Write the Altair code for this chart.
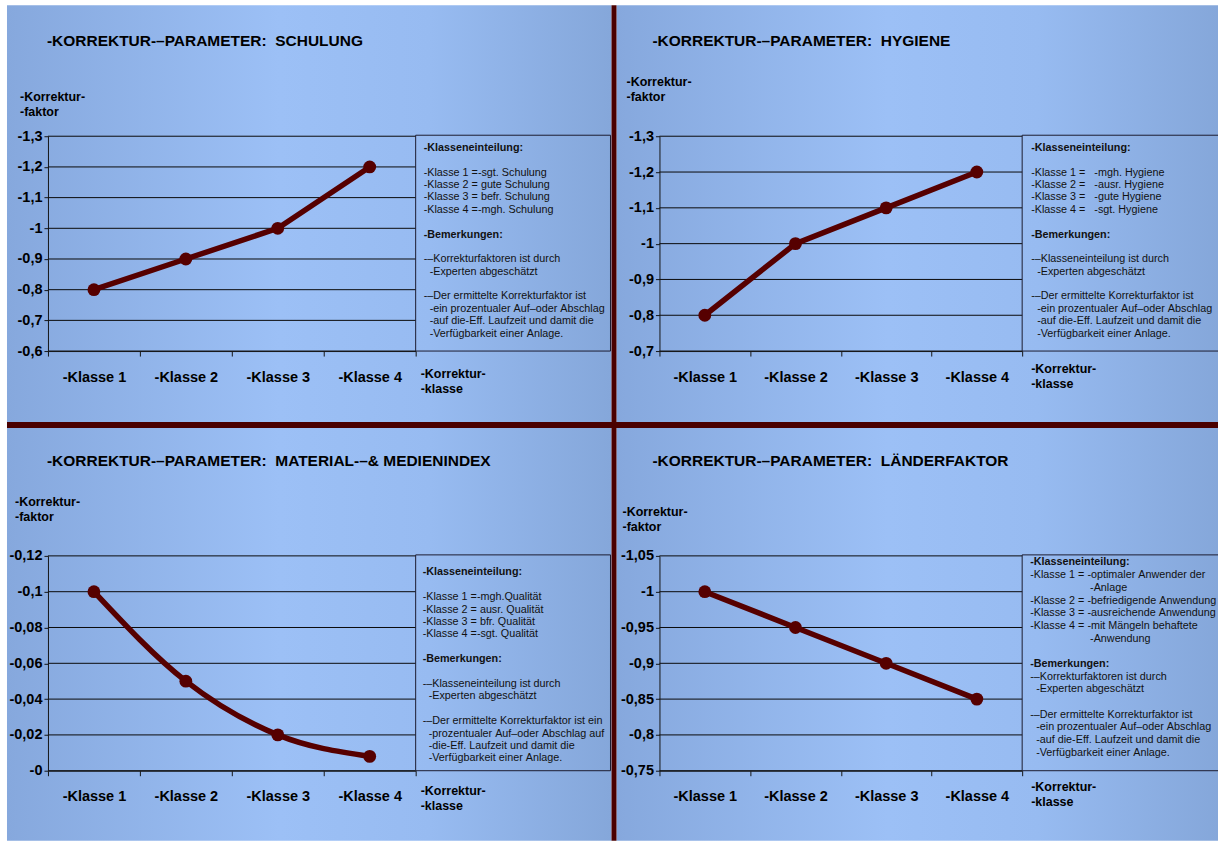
import altair as alt
import pandas as pd

FONT = "Liberation Sans"
MAROON = "#4a0000"
LINE_COLOR = "#560000"
INK = "#111111"
NB = "\u00a0"
ZW = "\u200b"

# ---------------- data ----------------
classes = ["-Klasse 1", "-Klasse 2", "-Klasse 3", "-Klasse 4"]

schulung_values = [0.8, 0.9, 1.0, 1.2]
hygiene_values = [0.8, 1.0, 1.1, 1.2]
material_values = [0.1, 0.05, 0.02, 0.008]
laender_values = [1.0, 0.95, 0.9, 0.85]

schulung_ticks = [0.6, 0.7, 0.8, 0.9, 1.0, 1.1, 1.2, 1.3]
hygiene_ticks = [0.7, 0.8, 0.9, 1.0, 1.1, 1.2, 1.3]
material_ticks = [0.0, 0.02, 0.04, 0.06, 0.08, 0.1, 0.12]
laender_ticks = [0.75, 0.8, 0.85, 0.9, 0.95, 1.0, 1.05]

titles = [
    "-KORREKTUR-–PARAMETER:  SCHULUNG",
    "-KORREKTUR-–PARAMETER:  HYGIENE",
    "-KORREKTUR-–PARAMETER:  MATERIAL-–& MEDIENINDEX",
    "-KORREKTUR-–PARAMETER:  LÄNDERFAKTOR",
]
y_title_lines = ["-Korrektur-", "-faktor"]
x_title_lines = ["-Korrektur-", "-klasse"]

# lines starting with "#" are bold headings, "" are blank lines
schulung_box = [
    "#-Klasseneinteilung:", "",
    "-Klasse 1 =-sgt. Schulung",
    "-Klasse 2 = gute Schulung",
    "-Klasse 3 = befr. Schulung",
    "-Klasse 4 =-mgh. Schulung", "",
    "#-Bemerkungen:", "",
    "-–Korrekturfaktoren ist durch",
    "  -Experten abgeschätzt", "",
    "-–Der ermittelte Korrekturfaktor ist",
    "  -ein prozentualer Auf–oder Abschlag",
    "  -auf die-Eff. Laufzeit und damit die",
    "  -Verfügbarkeit einer Anlage.",
]
hygiene_box = [
    "#-Klasseneinteilung:", "",
    "-Klasse 1 =   -mgh. Hygiene",
    "-Klasse 2 =   -ausr. Hygiene",
    "-Klasse 3 =   -gute Hygiene",
    "-Klasse 4 =   -sgt. Hygiene", "",
    "#-Bemerkungen:", "",
    "-–Klasseneinteilung ist durch",
    "  -Experten abgeschätzt", "",
    "-–Der ermittelte Korrekturfaktor ist",
    "  -ein prozentualer Auf–oder Abschlag",
    "  -auf die-Eff. Laufzeit und damit die",
    "  -Verfügbarkeit einer Anlage.",
]
material_box = [
    "#-Klasseneinteilung:", "",
    "-Klasse 1 =-mgh.Qualität",
    "-Klasse 2 = ausr. Qualität",
    "-Klasse 3 = bfr. Qualität",
    "-Klasse 4 =-sgt. Qualität", "",
    "#-Bemerkungen:", "",
    "-–Klasseneinteilung ist durch",
    "  -Experten abgeschätzt", "",
    "-–Der ermittelte Korrekturfaktor ist ein",
    "  -prozentualer Auf–oder Abschlag auf",
    "  -die-Eff. Laufzeit und damit die",
    "  -Verfügbarkeit einer Anlage.",
]
laender_box = [
    "#-Klasseneinteilung:",
    "-Klasse 1 = -optimaler Anwender der",
    "                    -Anlage",
    "-Klasse 2 = -befriedigende Anwendung",
    "-Klasse 3 = -ausreichende Anwendung",
    "-Klasse 4 = -mit Mängeln behaftete",
    "                    -Anwendung", "",
    "#-Bemerkungen:",
    "-–Korrekturfaktoren ist durch",
    "  -Experten abgeschätzt", "",
    "-–Der ermittelte Korrekturfaktor ist",
    "  -ein prozentualer Auf–oder Abschlag",
    "  -auf die-Eff. Laufzeit und damit die",
    "  -Verfügbarkeit einer Anlage.",
]

# ---------------- layout (absolute page pixels) ----------------
PAGE_W, PAGE_H = 1219, 841
geos = [
    dict(x0=48, y0=136, w=368, h=215, quad=(7, 5, 612, 422), box=(416, 135, 611, 351),
         title=(47, 45.6), ytitle=(20, 101.2), xtitle=(421, 377.5), boxtext=(424, 150.6), lh=12.4),
    dict(x0=660, y0=136, w=363, h=215, quad=(617, 5, 1219, 422), box=(1023, 135, None, 351),
         title=(653, 45.6), ytitle=(627, 86.2), xtitle=(1032, 372.5), boxtext=(1032, 150.6), lh=12.4),
    dict(x0=48, y0=556, w=368, h=215, quad=(7, 428, 612, 841), box=(416, 555, 611, 771),
         title=(47, 465.6), ytitle=(15, 506.2), xtitle=(421, 795.5), boxtext=(423, 575.6), lh=12.4),
    dict(x0=660, y0=556, w=363, h=215, quad=(617, 428, 1219, 841), box=(1023, 555, None, 771),
         title=(653, 465.6), ytitle=(623, 516.2), xtitle=(1032, 791.0), boxtext=(1031, 565.6), lh=12.7),
]

GRADIENT = alt.LinearGradient(
    gradient="linear", x1=0, x2=1, y1=0, y2=0,
    stops=[
        alt.GradientStop(offset=0, color="#86a8dd"),
        alt.GradientStop(offset=0.45, color="#9cc0f6"),
        alt.GradientStop(offset=0.7, color="#97bbf1"),
        alt.GradientStop(offset=1, color="#85a7da"),
    ],
)

LABEL_EXPR = "'-' + replace(format(datum.value, '.2~f'), '.', ',')"


def nb(s):
    # zero-width space keeps leading indentation from being trimmed
    return ZW + s.replace(" ", NB)


def panel(vals, ticks, title, box, geo, smooth=False, canvas=False, separators=False):
    x0, y0, w, h = geo["x0"], geo["y0"], geo["w"], geo["h"]

    def rx(a):
        return a - x0

    def ry(a):
        return a - y0

    one = pd.DataFrame({"o": [0]})
    df = pd.DataFrame({"klasse": classes, "wert": vals})
    grid_df = pd.DataFrame({"wert": ticks})
    dom = [min(ticks), max(ticks)]
    yscale = alt.Scale(domain=dom, nice=False, zero=False)
    xscale = alt.Scale(type="band", domain=classes, paddingInner=0, paddingOuter=0)

    xaxis = alt.Axis(title=None, labelAngle=0, tickBand="extent", tickSize=5, labelPadding=14,
                     labelFont=FONT, labelFontSize=14.5, labelFontWeight="bold", labelColor="black",
                     domainColor="#151515", tickColor="#151515", grid=False, zindex=2)
    yaxis = alt.Axis(title=None, values=ticks, labelExpr=LABEL_EXPR, tickSize=4, labelPadding=2,
                     labelFont=FONT, labelFontSize=14.5, labelFontWeight="bold", labelColor="black",
                     domainColor="#151515", tickColor="#151515", grid=False, zindex=2)

    layers = []
    if canvas:
        layers.append(alt.Chart(one).mark_rect(fill="white").encode(
            x=alt.value(rx(0)), x2=alt.value(rx(PAGE_W)),
            y=alt.value(ry(0)), y2=alt.value(ry(PAGE_H))))
    qx1, qy1, qx2, qy2 = geo["quad"]
    layers.append(alt.Chart(one).mark_rect(fill=GRADIENT).encode(
        x=alt.value(rx(qx1)), x2=alt.value(rx(qx2)),
        y=alt.value(ry(qy1)), y2=alt.value(ry(qy2))))

    # grid lines
    layers.append(alt.Chart(grid_df).mark_rule(color="#0a0a0a", strokeWidth=1).encode(
        y=alt.Y("wert:Q", scale=yscale, axis=yaxis),
        x=alt.value(0), x2=alt.value(w)))

    # legend box
    bx1, by1, bx2, by2 = geo["box"]
    right = bx2 if bx2 is not None else PAGE_W
    box_color = "#1c1c30"
    layers.append(alt.Chart(one).mark_rule(color=box_color, strokeWidth=1).encode(
        x=alt.value(rx(bx1)), x2=alt.value(rx(right)), y=alt.value(ry(by1))))
    layers.append(alt.Chart(one).mark_rule(color=box_color, strokeWidth=1).encode(
        x=alt.value(rx(bx1)), x2=alt.value(rx(right)), y=alt.value(ry(by2))))
    layers.append(alt.Chart(one).mark_rule(color=box_color, strokeWidth=1).encode(
        x=alt.value(rx(bx1)), y=alt.value(ry(by1)), y2=alt.value(ry(by2))))
    if bx2 is not None:
        layers.append(alt.Chart(one).mark_rule(color=box_color, strokeWidth=1).encode(
            x=alt.value(rx(bx2)), y=alt.value(ry(by1)), y2=alt.value(ry(by2))))

    # legend box text: one row per non-blank line
    tx, ty = geo["boxtext"]
    rows = []
    for i, l in enumerate(box):
        if not l:
            continue
        is_bold = l.startswith("#")
        rows.append({"txt": nb(l[1:] if is_bold else l), "i": i, "fett": is_bold})
    box_df = pd.DataFrame(rows)
    limit = PAGE_W - tx - 1
    for weight, flag in (("normal", False), ("bold", True)):
        layers.append(alt.Chart(box_df).transform_filter(
            f"datum.fett == {'true' if flag else 'false'}"
        ).transform_calculate(
            py=f"{ry(ty)} + datum.i * {geo['lh']}"
        ).mark_text(
            font=FONT, fontSize=10.8, fontWeight=weight, color=INK,
            align="left", baseline="alphabetic", limit=limit, ellipsis=ZW).encode(
            x=alt.value(rx(tx)), y=alt.Y("py:Q", scale=None, axis=None), text="txt:N"))

    # titles
    ttx, tty = geo["title"]
    layers.append(alt.Chart(one).mark_text(
        text=nb(title), font=FONT, fontSize=15.5, fontWeight="bold", color="black",
        align="left", baseline="alphabetic").encode(x=alt.value(rx(ttx)), y=alt.value(ry(tty))))
    yx, yy = geo["ytitle"]
    layers.append(alt.Chart(one).mark_text(
        text=y_title_lines, font=FONT, fontSize=12.5, fontWeight="bold", color="black",
        align="left", baseline="alphabetic", lineHeight=15).encode(
        x=alt.value(rx(yx)), y=alt.value(ry(yy))))
    xx, xy = geo["xtitle"]
    layers.append(alt.Chart(one).mark_text(
        text=x_title_lines, font=FONT, fontSize=12.5, fontWeight="bold", color="black",
        align="left", baseline="alphabetic", lineHeight=15).encode(
        x=alt.value(rx(xx)), y=alt.value(ry(xy))))

    enc = dict(
        x=alt.X("klasse:N", scale=xscale, bandPosition=0.5, axis=xaxis),
        y=alt.Y("wert:Q", scale=yscale, axis=yaxis),
    )
    line = alt.Chart(df).mark_line(
        color=LINE_COLOR, strokeWidth=5.5,
        interpolate="monotone" if smooth else "linear").encode(**enc)
    pts = alt.Chart(df).mark_circle(color=LINE_COLOR, size=165, opacity=1).encode(**enc)
    layers += [line, pts]

    if separators:
        layers.append(alt.Chart(one).mark_rect(fill=MAROON).encode(
            x=alt.value(rx(612)), x2=alt.value(rx(617)),
            y=alt.value(ry(5)), y2=alt.value(ry(PAGE_H))))
        layers.append(alt.Chart(one).mark_rect(fill=MAROON).encode(
            x=alt.value(rx(7)), x2=alt.value(rx(PAGE_W)),
            y=alt.value(ry(422)), y2=alt.value(ry(428))))

    return alt.layer(*layers).properties(width=w, height=h)


p1 = panel(schulung_values, schulung_ticks, titles[0], schulung_box, geos[0], canvas=True)
p2 = panel(hygiene_values, hygiene_ticks, titles[1], hygiene_box, geos[1])
p3 = panel(material_values, material_ticks, titles[2], material_box, geos[2], smooth=True)
p4 = panel(laender_values, laender_ticks, titles[3], laender_box, geos[3], separators=True)

chart = alt.concat(
    p1, p2, p3, p4, columns=2,
    spacing=alt.RowColnumber(row=205, column=244), bounds="flush",
).properties(padding=0, background="white").configure_view(stroke=None)

chart.save("out.html", embed_options={"renderer": "svg", "actions": False})
